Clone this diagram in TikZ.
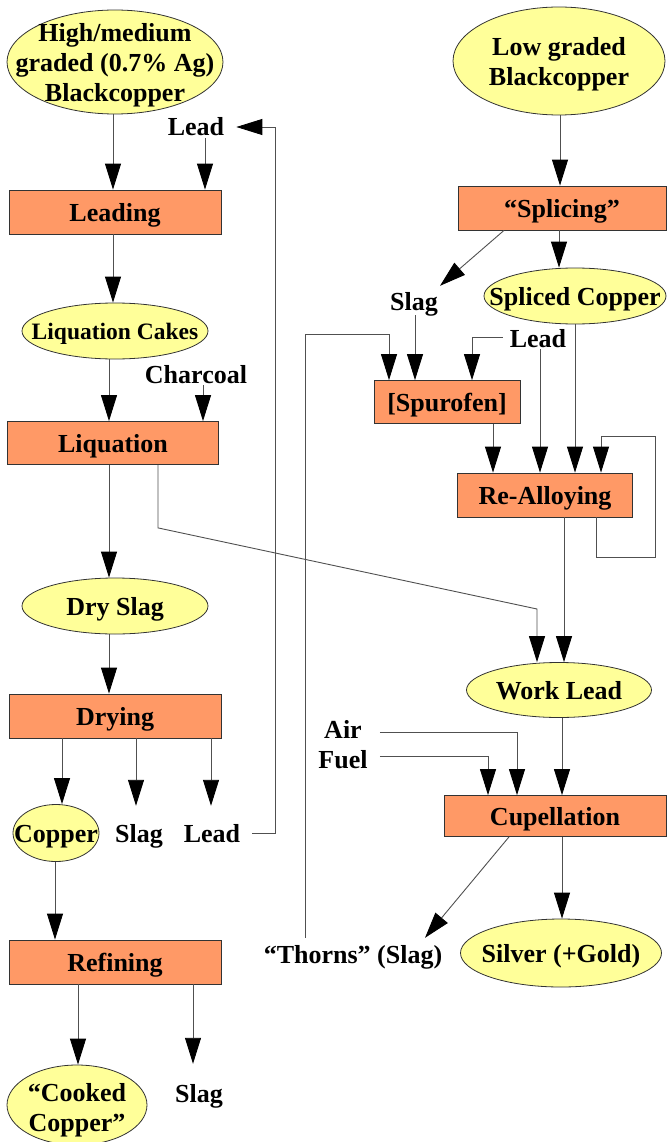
\documentclass[tikz,border=0pt]{standalone}
\usepackage{fontspec}
\setmainfont{Liberation Serif}
\usetikzlibrary{shapes.geometric,arrows.meta}
\definecolor{ellfill}{RGB}{255,255,153}
\definecolor{boxfill}{RGB}{255,153,102}
\definecolor{linecol}{RGB}{80,80,80}
\tikzset{
  txt/.style={font=\bfseries\fontsize{26}{30}\selectfont, align=center, inner sep=0pt},
  one/.style={txt, text height=20pt, text depth=2pt},
  ell/.style={ellipse, draw=black!80, fill=ellfill, line width=0.8pt, inner sep=0pt},
  box/.style={one, rectangle, draw=black!80, fill=boxfill, line width=0.8pt},
  lbl/.style={one},
  arr/.style={draw=linecol, line width=0.9pt, -{Triangle[length=26pt,width=16pt,color=black,fill=black]}},
}
\begin{document}
\begin{tikzpicture}[x=1pt,y=-1pt]
\useasboundingbox (0,0) rectangle (666,1142);
% left column
\node[ell, minimum width=216, minimum height=104, label={[txt, yshift=-3pt]center:{High/medium\\graded (0.7\% Ag)\\Blackcopper}}] (hm) at (115,62) {};
\node[lbl] (leadtop) at (196,127) {Lead};
\node[box, minimum width=212, minimum height=44] (leading) at (115,212) {Leading};
\node[ell, minimum width=186, minimum height=56, label={[txt, text height=18pt, text depth=2pt, font=\bfseries\fontsize{23.5}{28}\selectfont]center:{Liquation Cakes}}] (cakes) at (115,331) {};
\node[lbl] (charcoal) at (196,374) {Charcoal};
\node[box, minimum width=211, minimum height=43] (liquation) at (113,443) {Liquation};
\node[ell, minimum width=186, minimum height=56, label={[one]center:{Dry Slag}}] (dryslag) at (115,606) {};
\node[box, minimum width=212, minimum height=44] (drying) at (115,716) {Drying};
\node[ell, minimum width=86, minimum height=57, label={[one]center:{Copper}}] (copper) at (56,833) {};
\node[lbl] (slagd) at (139,833) {Slag};
\node[lbl] (leadd) at (212,833) {Lead};
\node[box, minimum width=212, minimum height=44] (refining) at (115,962) {Refining};
\node[ell, minimum width=140, minimum height=80, label={[txt, yshift=-5pt]center:{“Cooked\\Copper”}}] (cooked) at (77,1105) {};
\node[lbl] (slagb) at (199,1093) {Slag};
% right column
\node[ell, minimum width=212, minimum height=108, label={[txt, yshift=-3pt]center:{Low graded\\Blackcopper}}] (low) at (559,61) {};
\node[box, minimum width=208, minimum height=44] (splicing) at (562,208) {“Splicing”};
\node[lbl] (slagr) at (414,301) {Slag};
\node[ell, minimum width=182, minimum height=56, label={[one]center:{Spliced Copper}}] (spliced) at (575,296) {};
\node[lbl] (leadr) at (538,338) {Lead};
\node[box, minimum width=146, minimum height=43] (spurofen) at (447,402) {[Spurofen]};
\node[box, minimum width=175, minimum height=44] (realloy) at (545,495) {Re-Alloying};
\node[ell, minimum width=185, minimum height=55, label={[one]center:{Work Lead}}] (worklead) at (559,690) {};
\node[lbl] (air) at (343,729) {Air};
\node[lbl] (fuel) at (343,759) {Fuel};
\node[box, minimum width=222, minimum height=41] (cupel) at (555,816) {Cupellation};
\node[ell, minimum width=201, minimum height=68, label={[one]center:{Silver (+Gold)}}] (silver) at (561,953) {};
\node[lbl] (thorns) at (353,954) {“Thorns” (Slag)};
% bend coordinates
\coordinate (rl) at (275,127);
\coordinate (wbend) at (537,609);
\coordinate (tb) at (389,334);
\coordinate (lp1) at (655,557);
\coordinate (lp2) at (655,436);
% left connectors
\draw[arr] ([xshift=-2pt]hm.south) -- ([xshift=-2pt]leading.north);
\draw[arr] ([xshift=9pt]leadtop.south) -- ([xshift=9pt]leadtop.south |- leading.north);
\draw[arr] ([xshift=-2pt]leading.south) -- ([xshift=-2pt]cakes.north);
\draw[arr] ([xshift=7pt]charcoal.south) -- ([xshift=7pt]charcoal.south |- liquation.north);
\draw[arr] ([xshift=-6pt]cakes.south) -- ([xshift=-6pt]cakes.south |- liquation.north);
\draw[arr] ([xshift=-4pt]liquation.south) -- ([xshift=-4pt]liquation.south |- dryslag.north);
\draw[arr] ([xshift=45pt]liquation.south) -- ++(0,63) -- (wbend) -- (wbend |- worklead.north);
\draw[arr] ([xshift=-6pt]dryslag.south) -- ([xshift=-6pt]dryslag.south |- drying.north);
\draw[arr] ([xshift=-53pt]drying.south) -- ([xshift=-53pt]drying.south |- copper.north);
\draw[arr] ([xshift=21pt]drying.south) -- ([xshift=-3pt,yshift=16pt]slagd.north);
\draw[arr] ([xshift=96pt]drying.south) -- ([xshift=-1pt,yshift=16pt]leadd.north);
\draw[arr] ([xshift=12pt]leadd.east) -| (rl) -- ([xshift=12pt]leadtop.east |- rl);
\draw[arr] ([xshift=-1pt]copper.south) -- ([xshift=-1pt]copper.south |- refining.north);
\draw[arr] ([xshift=-37pt]refining.south) -- ([xshift=-37pt]refining.south |- cooked.north);
\draw[arr] ([xshift=78pt]refining.south) -- ([xshift=-6pt,yshift=18pt]slagb.north);
% right connectors
\draw[arr] ([xshift=1pt]low.south) -- ([xshift=1pt]low.south |- splicing.north);
\draw[arr] ([xshift=-58pt]splicing.south) -- ([xshift=26pt,yshift=4pt]slagr.north);
\draw[arr] ([xshift=-3pt]splicing.south) -- ([xshift=-3pt]splicing.south |- spliced.north);
\draw[arr] ([xshift=1pt,yshift=-3pt]slagr.south) -- ([xshift=1pt]slagr.south |- spurofen.north);
\draw[arr] ([xshift=-48pt,yshift=5pt]thorns.north) |- (tb) -- (tb |- spurofen.north);
\draw[arr] ([xshift=-7pt,yshift=1pt]leadr.west) -| ([xshift=25pt]spurofen.north);
\draw[arr] ([xshift=2pt]leadr.south) -- ([xshift=2pt]leadr.south |- realloy.north);
\draw[arr] ([xshift=46pt]spurofen.south) -- ([xshift=46pt]spurofen.south |- realloy.north);
\draw[arr] (spliced.south) -- (spliced.south |- realloy.north);
\draw[arr] ([xshift=51pt]realloy.south) |- (lp1) -- (lp2) -| ([xshift=56pt]realloy.north);
\draw[arr] ([xshift=19pt]realloy.south) -- ([xshift=19pt]realloy.south |- worklead.north);
\draw[arr] ([xshift=18pt,yshift=-3pt]air.east) -| ([xshift=-38pt]cupel.north);
\draw[arr] ([xshift=12pt,yshift=3pt]fuel.east) -| ([xshift=-67pt]cupel.north);
\draw[arr] ([xshift=3pt]worklead.south) -- ([xshift=3pt]worklead.south |- cupel.north);
\draw[arr] ([xshift=-46pt]cupel.south) -- ([xshift=72pt,yshift=5pt]thorns.north);
\draw[arr] ([xshift=7pt]cupel.south) -- ([xshift=7pt]cupel.south |- silver.north);
\end{tikzpicture}
\end{document}
